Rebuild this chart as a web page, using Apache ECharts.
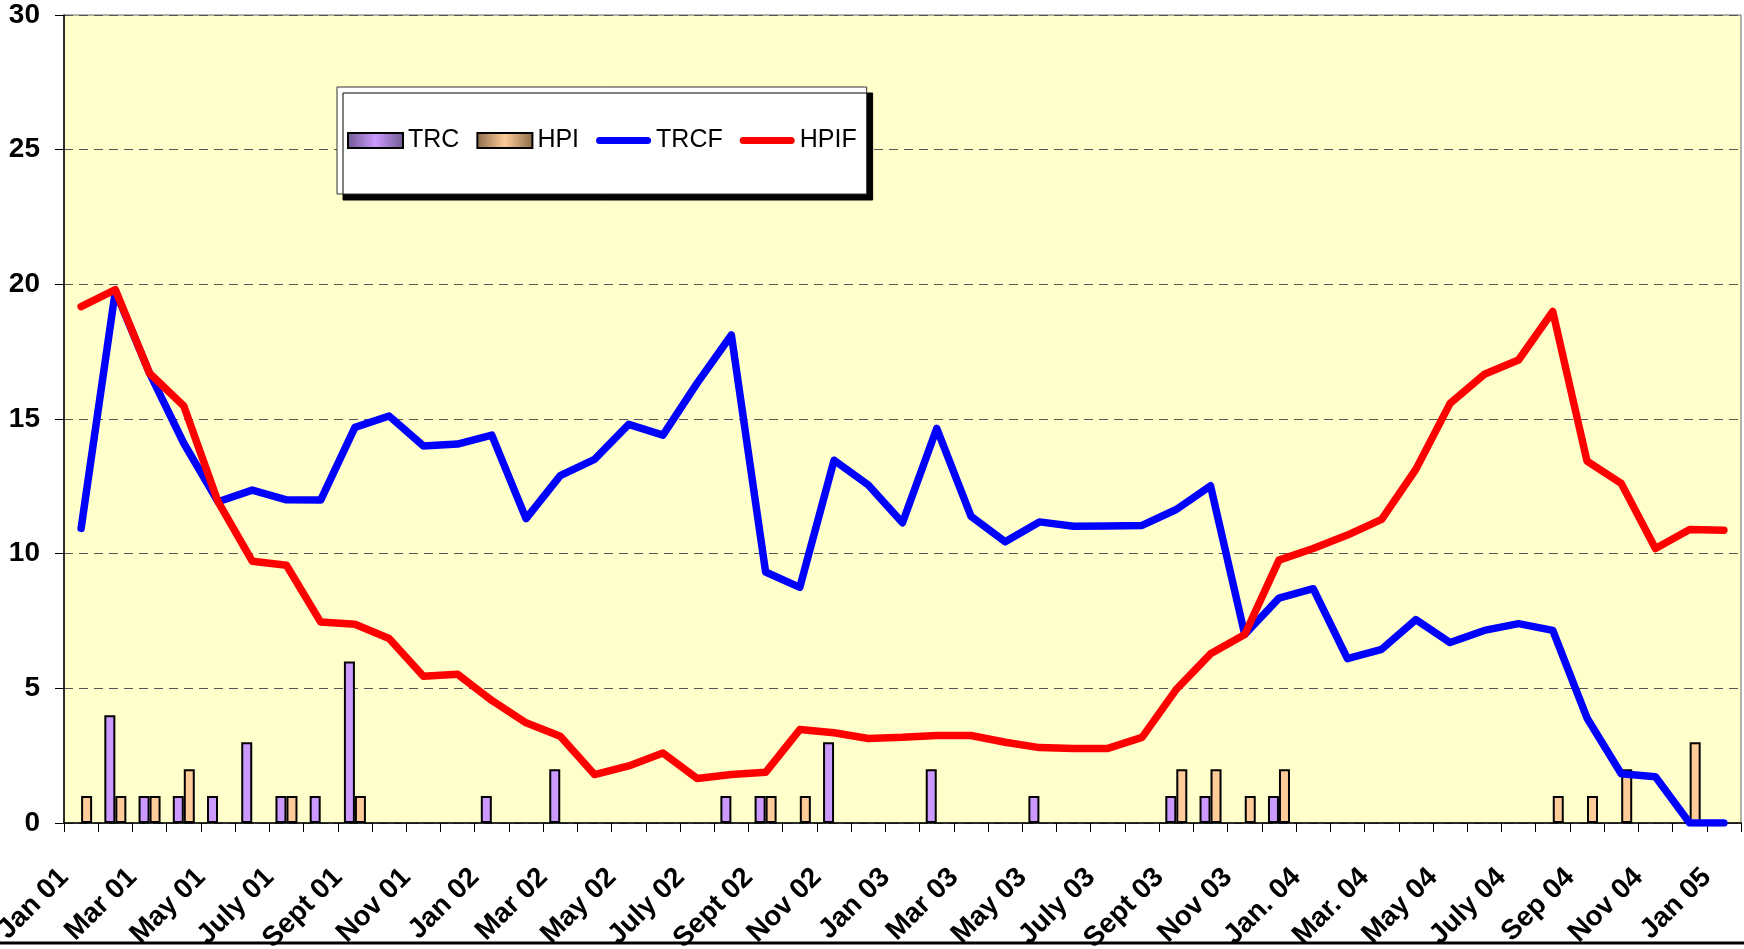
<!DOCTYPE html>
<html>
<head>
<meta charset="utf-8">
<script src="https://cdn.jsdelivr.net/npm/echarts@6/dist/echarts.min.js"></script>
</head>
<body style="margin:0;background:#fff">
<div id="main" style="width:1744px;height:949px"></div>
<script>
// monthly categories, Jan 01 .. Jan 05
var months = ['Jan 01','Feb 01','Mar 01','Apr 01','May 01','June 01','July 01','Aug 01','Sept 01','Oct 01','Nov 01','Dec 01',
  'Jan 02','Feb 02','Mar 02','Apr 02','May 02','June 02','July 02','Aug 02','Sept 02','Oct 02','Nov 02','Dec 02',
  'Jan 03','Feb 03','Mar 03','Apr 03','May 03','June 03','July 03','Aug 03','Sept 03','Oct 03','Nov 03','Dec 03',
  'Jan. 04','Feb. 04','Mar. 04','Apr 04','May 04','June 04','July 04','Aug 04','Sep 04','Oct 04','Nov 04','Dec 04',
  'Jan 05'];

var trc = [0,4,1,1,1,3,1,1,6,0,0,0, 1,0,2,0,0,0,0,1,1,0,3,0, 0,2,0,0,1,0,0,0,1,1,0,1, 0,0,0,0,0,0,0,0,0,0,0,0,0];
var hpi = [1,1,1,2,0,0,1,0,1,0,0,0, 0,0,0,0,0,0,0,0,1,1,0,0, 0,0,0,0,0,0,0,0,2,2,1,2, 0,0,0,0,0,0,0,1,1,2,0,3,0];

var trcf = [10.94,19.75,16.7,14.1,11.93,12.36,12.0,11.99,14.69,15.11,14.0,14.07,
  14.4,11.3,12.9,13.5,14.8,14.4,16.33,18.12,9.32,8.75,13.47,12.55,
  11.15,14.65,11.39,10.44,11.18,11.02,11.03,11.05,11.64,12.52,7.0,8.35,
  8.7,6.1,6.45,7.55,6.7,7.15,7.4,7.15,3.9,1.83,1.72,0,0];
var hpif = [19.17,19.8,16.7,15.48,11.93,9.72,9.57,7.46,7.38,6.85,5.45,5.52,
  4.55,3.72,3.22,1.8,2.12,2.6,1.65,1.8,1.88,3.47,3.35,3.14,
  3.18,3.25,3.25,3.0,2.8,2.77,2.77,3.18,4.96,6.28,7.0,9.76,
  10.19,10.69,11.27,13.13,15.58,16.66,17.19,18.99,13.44,12.61,10.19,10.9,10.87];

var yTicks = [0, 5, 10, 15, 20, 25, 30];

var font = "'Liberation Sans', Arial, sans-serif";

// empty months get no bar at all (no outline on the axis)
function bars(arr) {
  return arr.map(function (v) { return v === 0 ? '-' : v; });
}

function grad(dark, light) {
  return new echarts.graphic.LinearGradient(0, 0, 1, 0, [
    { offset: 0, color: dark }, { offset: 0.5, color: light }, { offset: 1, color: dark }
  ]);
}

var lineIcon = 'path://M3.5,0 L51.5,0 A3.5,3.5 0 0 1 51.5,7 L3.5,7 A3.5,3.5 0 0 1 3.5,0 Z';

var chart = echarts.init(document.getElementById('main'), null, { renderer: 'canvas' });

var option = {
  animation: false,
  backgroundColor: '#ffffff',
  grid: {
    left: 64, top: 15, right: 3, bottom: 126,
    containLabel: false, outerBoundsMode: 'none',
    show: true, backgroundColor: '#FFFFCC', borderColor: '#666', borderWidth: 1
  },
  legend: {
    left: 337, top: 87,
    orient: 'horizontal',
    padding: [41, 10, 41, 10],
    itemGap: 17,
    itemWidth: 55, itemHeight: 15,
    backgroundColor: '#ffffff',
    borderColor: '#333', borderWidth: 1,
    shadowColor: '#000', shadowOffsetX: 6, shadowOffsetY: 6, shadowBlur: 0,
    textStyle: { fontFamily: font, fontSize: 25, color: '#000' },
    data: [
      { name: 'TRC', icon: 'rect', itemStyle: { color: grad('#6e5a90', '#cc99ff'), borderColor: '#000', borderWidth: 2 } },
      { name: 'HPI', icon: 'rect', itemStyle: { color: grad('#8a6a4a', '#ffcc99'), borderColor: '#000', borderWidth: 2 } },
      { name: 'TRCF', icon: lineIcon, itemStyle: { color: '#0000FF', borderWidth: 0 } },
      { name: 'HPIF', icon: lineIcon, itemStyle: { color: '#FF0000', borderWidth: 0 } }
    ]
  },
  xAxis: {
    type: 'category',
    data: months,
    boundaryGap: true,
    axisLine: { lineStyle: { color: '#000', width: 1.5 } },
    axisTick: { show: true, interval: 0, length: 9, lineStyle: { color: '#000', width: 1 } },
    axisLabel: {
      interval: 1, rotate: 45, margin: 33, padding: [0, 24, 0, 0],
      fontFamily: font, fontSize: 28, fontWeight: 'bold', color: '#000'
    },
    splitLine: { show: false }
  },
  yAxis: {
    type: 'value',
    min: yTicks[0], max: yTicks[yTicks.length - 1], interval: 5,
    axisLine: { show: true, lineStyle: { color: '#000', width: 1.5 } },
    axisTick: { show: true, length: 9, lineStyle: { color: '#000' } },
    axisLabel: { margin: 24, fontFamily: font, fontSize: 28, fontWeight: 'bold', color: '#000' },
    splitLine: { show: true, lineStyle: { color: '#555', type: [9, 6], width: 1 } }
  },
  series: [
    {
      name: 'TRC', type: 'bar', data: bars(trc),
      barWidth: 11, barGap: '0%',
      itemStyle: { color: '#CC99FF', borderColor: '#000', borderWidth: 2 }
    },
    {
      name: 'HPI', type: 'bar', data: bars(hpi),
      barWidth: 11, barGap: '0%',
      itemStyle: { color: '#FFCC99', borderColor: '#000', borderWidth: 2 }
    },
    {
      name: 'TRCF', type: 'line', data: trcf,
      symbol: 'none', color: '#0000FF',
      lineStyle: { color: '#0000FF', width: 7.5, cap: 'round', join: 'round' }
    },
    {
      name: 'HPIF', type: 'line', data: hpif,
      symbol: 'none', color: '#FF0000',
      lineStyle: { color: '#FF0000', width: 7.5, cap: 'round', join: 'round' }
    }
  ],
  graphic: [
    { type: 'line', shape: { x1: 0, y1: 943, x2: 1744, y2: 943 }, style: { stroke: '#000', lineWidth: 3 } }
  ]
};

chart.setOption(option);
window.addEventListener('resize', chart.resize);
</script>
</body>
</html>
